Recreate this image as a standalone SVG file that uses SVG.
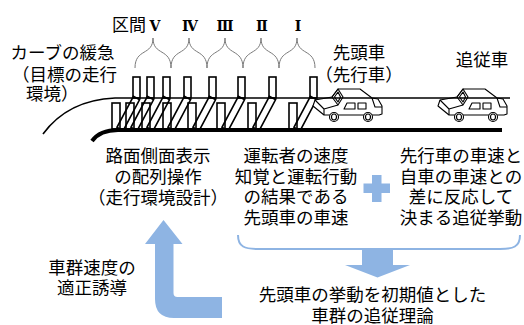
<svg xmlns="http://www.w3.org/2000/svg" width="524" height="325" viewBox="0 0 524 325">
  <style>
    .t { font-family: "Noto Sans CJK JP", "Noto Sans CJK SC", sans-serif; font-size: 17.5px; fill: #000; }
    .m { text-anchor: middle; }
    .num { font-family: "DejaVu Serif", "Noto Sans CJK JP", serif; font-size: 14px; font-weight: bold; text-anchor: middle; fill: #000; }
    .brace { fill: none; stroke: #7a7a7a; stroke-width: 1; }
    .post { fill: #fff; stroke: #000; stroke-width: 1.6; }
    .lpost { fill: none; stroke: #000; stroke-width: 1.6; }
    .car-line { fill: none; stroke: #000; stroke-width: 1.1; stroke-linejoin: round; }
    .car-body { fill: #fff; stroke: #000; stroke-width: 1.1; stroke-linejoin: round; }
    .blue { fill: #8eb4e3; }
    .blue-line { fill: none; stroke: #8eb4e3; stroke-width: 2; }
  </style>
  <defs>
    <!-- side view of a sedan, local origin at rear top corner -->
    <g id="car">
      <path class="car-body" d="M3,11 L20,8 L26,0 L48,0 L60,9 L66,10 L70,17 L70,25 L67,26 L12,26 L1,17 Z"/>
      <path class="car-line" d="M3,11 L12,20 L12,26 M12,20 L26,16"/>
      <path class="car-line" d="M20,8 L26,0 L31,8 L26,16 Z M22.5,8 L26,3 L28.5,8 L26,13 Z"/>
      <path class="car-line" d="M32,20 L35,14 L43,14 L43,20 Z"/>
      <rect class="car-line" x="46" y="14" width="8" height="6"/>
      <path class="car-line" d="M60,9 L63,18 L70,18"/>
      <circle class="car-body" cx="22" cy="28" r="4.5"/>
      <ellipse class="car-line" cx="22" cy="28" rx="2.5" ry="3"/>
      <circle class="car-body" cx="56" cy="28" r="4.5"/>
      <ellipse class="car-line" cx="56" cy="28" rx="2.5" ry="3"/>
    </g>
    <!-- slanted lower marker, hung from its top centre -->
    <rect id="slant" class="lpost" x="-3.5" y="0" width="7" height="35"/>
  </defs>

  <rect width="524" height="325" fill="#fff"/>

  <!-- section labels and braces -->
  <g id="sections">
    <text class="t" x="112" y="31" style="font-size:17px">区間</text>
    <text class="num" x="155" y="31">Ⅴ</text>
    <text class="num" x="190" y="31">Ⅳ</text>
    <text class="num" x="225" y="31">Ⅲ</text>
    <text class="num" x="262" y="31">Ⅱ</text>
    <text class="num" x="298" y="31">Ⅰ</text>
    <path class="brace" d="M135,68 C135,48 153,56 153,38 C153,56 171,48 171,68"/>
    <path class="brace" d="M171,68 C171,48 189,56 189,38 C189,56 207,48 207,68"/>
    <path class="brace" d="M207,68 C207,48 225,56 225,38 C225,56 243,48 243,68"/>
    <path class="brace" d="M243,68 C243,48 261,56 261,38 C261,56 279,48 279,68"/>
    <path class="brace" d="M279,68 C279,48 297,56 297,38 C297,56 315,48 315,68"/>
  </g>

  <!-- curve label -->
  <g id="curve-label">
    <text class="t m" x="62.5" y="59">カーブの緩急</text>
    <text class="t" x="117" y="81" text-anchor="end">（目標の走行</text>
    <text class="t" x="26" y="100">環境）</text>
  </g>

  <!-- vehicle labels -->
  <g id="lead-label">
    <text class="t m" x="359" y="59">先頭車</text>
    <text class="t m" x="359" y="81">（先行車）</text>
  </g>
  <g id="follower-label">
    <text class="t m" x="482" y="66">追従車</text>
  </g>

  <!-- roadside posts: upper markers, lower straight and slanted markers -->
  <g id="markers">
    <rect class="post" x="133" y="77" width="7" height="21"/>
    <rect class="post" x="147" y="77" width="7" height="21"/>
    <rect class="post" x="163" y="77" width="7" height="21"/>
    <rect class="post" x="184" y="77" width="7" height="21"/>
    <rect class="post" x="209" y="77" width="7" height="21"/>
    <rect class="post" x="238" y="77" width="7" height="21"/>
    <rect class="post" x="269" y="77" width="7" height="21"/>
    <rect class="post" x="310" y="77" width="7" height="21"/>

    <rect class="lpost" x="112" y="103" width="8" height="26"/>
    <rect class="lpost" x="126" y="103" width="8" height="26"/>
    <rect class="lpost" x="142" y="103" width="8" height="26"/>
    <rect class="lpost" x="163" y="103" width="8" height="26"/>
    <rect class="lpost" x="188" y="103" width="8" height="26"/>
    <rect class="lpost" x="217" y="103" width="8" height="26"/>
    <rect class="lpost" x="248" y="103" width="8" height="26"/>
    <rect class="lpost" x="289" y="103" width="8" height="26"/>

    <use href="#slant" transform="translate(136.5,98) rotate(28)"/>
    <use href="#slant" transform="translate(150.5,98) rotate(28)"/>
    <use href="#slant" transform="translate(166.5,98) rotate(28)"/>
    <use href="#slant" transform="translate(187.5,98) rotate(28)"/>
    <use href="#slant" transform="translate(212.5,98) rotate(28)"/>
    <use href="#slant" transform="translate(241.5,98) rotate(28)"/>
    <use href="#slant" transform="translate(272.5,98) rotate(28)"/>
    <use href="#slant" transform="translate(313.5,98) rotate(28)"/>
  </g>

  <!-- vehicles -->
  <g id="lead-car"><use href="#car" transform="translate(312,89)"/></g>
  <g id="follower-car"><use href="#car" transform="translate(437,89)"/></g>

  <!-- road edges -->
  <g id="road">
    <path d="M43,134 Q68,100 115,98 L510,98" fill="none" stroke="#000" stroke-width="1.6"/>
    <path d="M92,141 Q100,130 118,130 L502,130" fill="none" stroke="#000" stroke-width="4"/>
  </g>

  <!-- explanation blocks -->
  <g id="design">
    <text class="t m" x="158" y="162">路面側面表示</text>
    <text class="t m" x="158" y="183">の配列操作</text>
    <text class="t m" x="158" y="204">（走行環境設計）</text>
  </g>
  <g id="lead-speed">
    <text class="t m" x="296" y="162">運転者の速度</text>
    <text class="t m" x="296" y="182.5">知覚と運転行動</text>
    <text class="t m" x="296" y="203">の結果である</text>
    <text class="t m" x="296" y="223.5">先頭車の車速</text>
  </g>
  <g id="following">
    <text class="t m" x="461" y="162">先行車の車速と</text>
    <text class="t m" x="461" y="182.5">自車の車速との</text>
    <text class="t m" x="461" y="203">差に反応して</text>
    <text class="t m" x="461" y="223.5">決まる追従挙動</text>
  </g>
  <g id="plus">
    <path class="blue" d="M372,175 H381.5 V183.5 H390 V193 H381.5 V202 H372 V193 H363.5 V183.5 H372 Z"/>
  </g>
  <g id="theory">
    <text class="t m" x="372.5" y="301">先頭車の挙動を初期値とした</text>
    <text class="t m" x="372.5" y="321.5">車群の追従理論</text>
  </g>
  <g id="guidance">
    <text class="t m" x="92" y="274">車群速度の</text>
    <text class="t m" x="92" y="294">適正誘導</text>
  </g>

  <!-- connectors -->
  <g id="connectors">
    <path class="blue-line" d="M238,235 C238,247 245,249 258,249 L500,249 C513,249 520,247 520,235"/>
    <path class="blue" d="M362,249 L393,249 L393,265 L410,265 L377.5,277.5 L345,265 L362,265 Z"/>
    <path class="blue" d="M145,244 L163.5,220 L182.5,244 L173.5,244 L173.5,293 Q173.5,297 177.5,297 L222,297 L222,318 L174,318 Q155,318 155,299 L155,244 Z"/>
  </g>
</svg>
